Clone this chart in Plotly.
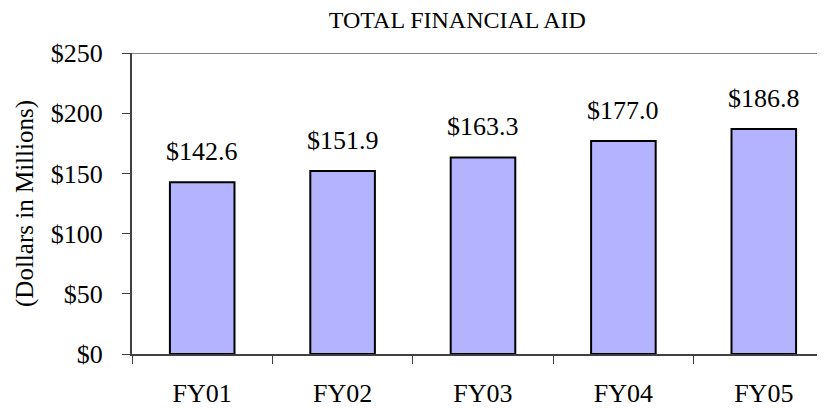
import plotly.graph_objects as go

categories = ["FY01", "FY02", "FY03", "FY04", "FY05"]
values = [142.6, 151.9, 163.3, 177.0, 186.8]
labels = ["$142.6", "$151.9", "$163.3", "$177.0", "$186.8"]
y_ticks = [0, 50, 100, 150, 200, 250]
y_tick_labels = ["$0", "$50", "$100", "$150", "$200", "$250"]

font = "Liberation Serif, Times New Roman, serif"

fig = go.Figure()
fig.add_trace(go.Bar(
    x=categories, y=values,
    marker=dict(color="#b3b3ff", line=dict(color="#000000", width=2)),
    width=0.46,
))

for c, v, t in zip(categories, values, labels):
    fig.add_annotation(x=c, y=v, text=t, showarrow=False, yanchor="bottom",
                       yshift=14, font=dict(family=font, size=26, color="#000"))

fig.add_shape(type="line", xref="paper", yref="y", x0=0, x1=1, y0=250, y1=250,
              line=dict(color="#808080", width=2))

fig.update_layout(
    width=817, height=400,
    margin=dict(l=124, r=0, t=45, b=52),
    paper_bgcolor="white", plot_bgcolor="white",
    showlegend=False,
    title=dict(text="TOTAL FINANCIAL AID", x=0.550, xanchor="center", y=0.972, yanchor="middle",
               font=dict(family=font, size=24, color="#000")),
    font=dict(family=font, size=26, color="#000"),
    xaxis=dict(type="category", range=[-0.5, 4.436], showline=True, linecolor="#404040", linewidth=2,
               ticks="outside", tickson="boundaries", ticklen=8, tickcolor="#404040",
               ticklabelstandoff=15,
               tickfont=dict(family=font, size=26), showgrid=False),
    yaxis=dict(range=[0, 250], tickvals=y_ticks, ticktext=y_tick_labels, showline=True,
               linecolor="#404040", linewidth=2, ticks="outside", ticklen=8, tickcolor="#404040",
               ticklabelstandoff=14,
               showgrid=False, zeroline=False, tickfont=dict(family=font, size=26),
               title=dict(text="(Dollars in Millions)", font=dict(family=font, size=25), standoff=10)),
)

fig.write_html("out.html")
